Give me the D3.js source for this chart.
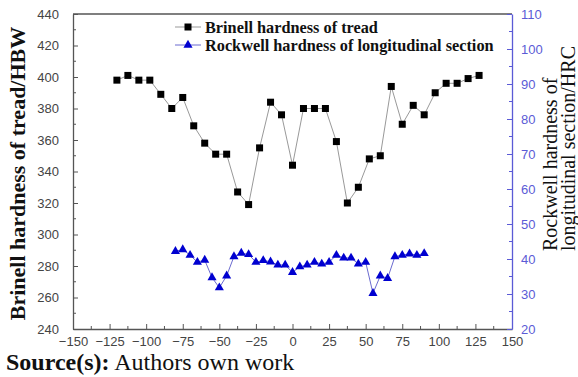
<!DOCTYPE html>
<html>
<head>
<meta charset="utf-8">
<title>Hardness distribution</title>
<style>
body { margin: 0; background: #fff; }
.tick text { font: 13px Arial, "Liberation Sans", sans-serif; }
</style>
</head>
<body>
<svg width="578" height="377"></svg>
<script src="https://cdnjs.cloudflare.com/ajax/libs/d3/7.8.5/d3.min.js"></script>
<script>

// positions along the wheel (mm) and measured hardness
var brinellX = [-120, -112.5, -105, -97.5, -90, -82.5, -75, -67.5, -60, -52.5, -45, -37.5,
                -30, -22.5, -15, -7.5, 0, 7.5, 15, 22.5, 30, 37.5, 45, 52.5, 60, 67.5,
                75, 82.5, 90, 97.5, 105, 112.5, 120, 127.5];
var brinellHBW = [398, 401, 398, 398, 389, 380, 387, 369, 358, 351, 351, 327,
                  319, 355, 384, 376, 344, 380, 380, 380, 359, 320, 330, 348, 350, 394,
                  370, 382, 376, 390, 396, 396, 399, 401];

var rockwellX = [-80, -75, -70, -65, -60, -55, -50, -45, -40, -35, -30, -25, -20, -15, -10, -5,
                 0, 5, 10, 15, 20, 25, 30, 35, 40, 45, 50, 55, 60, 65, 70, 75, 80, 85, 90];
var rockwellHRC = [42.2, 42.7, 41.1, 39.1, 39.7, 34.7, 31.8, 35.2, 40.7, 41.7, 41.3, 39.1, 39.6, 39.2, 38.3, 38.3,
                   36.2, 37.8, 38.3, 39.1, 38.6, 39.1, 41.1, 40.3, 40.3, 38.6, 39.1, 30.2, 35.2, 34.5, 40.7, 41.1, 41.5, 41.1, 41.6];

var xTicks = d3.range(-150, 151, 25);
var leftTicks = d3.range(240, 441, 20);
var rightTicks = d3.range(20, 111, 10);

var svg = d3.select("svg");
var mLeft = 73, mRight = 512, mTop = 14, mBottom = 329;

var x = d3.scaleLinear().domain([-150, 150]).range([mLeft, mRight]);
var yL = d3.scaleLinear().domain([240, 440]).range([mBottom, mTop]);
var yR = d3.scaleLinear().domain([20, 110]).range([mBottom, mTop]);

var axisGrey = "#555", blue = "#5b5bd6";

// frame top line
svg.append("line").attr("x1", mLeft).attr("x2", mRight).attr("y1", mTop).attr("y2", mTop)
    .attr("stroke", axisGrey).attr("stroke-width", 1.3);

// bottom axis
var gx = svg.append("g").attr("transform", "translate(0," + mBottom + ")")
    .call(d3.axisBottom(x).tickValues(xTicks).tickSizeInner(-5).tickSizeOuter(0).tickPadding(8)
      .tickFormat(function(d) { return d < 0 ? "\u2212" + Math.abs(d) : d; }));
gx.selectAll(".tick text").attr("fill", "#444");
gx.selectAll("line").attr("stroke", axisGrey);
gx.select(".domain").attr("stroke", axisGrey).attr("stroke-width", 1.3);
gx.selectAll(".minor").data(xTicks.slice(0, -1)).enter().append("line")
    .attr("x1", function(d) { return x(d + 12.5); }).attr("x2", function(d) { return x(d + 12.5); })
    .attr("y1", 0).attr("y2", -3).attr("stroke", axisGrey);

// left axis
var gl = svg.append("g").attr("transform", "translate(" + mLeft + ",0)")
    .call(d3.axisLeft(yL).tickValues(leftTicks).tickSizeInner(-5).tickSizeOuter(0).tickPadding(14));
gl.selectAll(".tick text").attr("fill", "#444");
gl.selectAll("line").attr("stroke", axisGrey);
gl.select(".domain").attr("stroke", axisGrey).attr("stroke-width", 1.3);
gl.selectAll(".minor").data(leftTicks.slice(0, -1)).enter().append("line")
    .attr("y1", function(d) { return yL(d + 10); }).attr("y2", function(d) { return yL(d + 10); })
    .attr("x1", 0).attr("x2", 3).attr("stroke", axisGrey);

// right axis
var gr = svg.append("g").attr("transform", "translate(" + mRight + ",0)")
    .call(d3.axisRight(yR).tickValues(rightTicks).tickSizeInner(-5).tickSizeOuter(0).tickPadding(9));
gr.selectAll(".tick text").attr("fill", blue);
gr.selectAll("line").attr("stroke", blue);
gr.select(".domain").attr("stroke", blue).attr("stroke-width", 1.3);
gr.selectAll(".minor").data(rightTicks.slice(0, -1)).enter().append("line")
    .attr("y1", function(d) { return yR(d + 5); }).attr("y2", function(d) { return yR(d + 5); })
    .attr("x1", 0).attr("x2", -3).attr("stroke", blue);

// Brinell series
var brinell = brinellX.map(function(d, i) { return [d, brinellHBW[i]]; });
svg.append("path").datum(brinell)
    .attr("fill", "none").attr("stroke", "#999").attr("stroke-width", 1)
    .attr("d", d3.line().x(function(d) { return x(d[0]); }).y(function(d) { return yL(d[1]); }));
svg.selectAll(".sq").data(brinell).enter().append("rect")
    .attr("x", function(d) { return x(d[0]) - 3.5; })
    .attr("y", function(d) { return yL(d[1]) - 3.5; })
    .attr("width", 7).attr("height", 7).attr("fill", "#000");

// Rockwell series
var rockwell = rockwellX.map(function(d, i) { return [d, rockwellHRC[i]]; });
svg.append("path").datum(rockwell)
    .attr("fill", "none").attr("stroke", "#6b6bd0").attr("stroke-width", 1)
    .attr("d", d3.line().x(function(d) { return x(d[0]); }).y(function(d) { return yR(d[1]); }));
var tri = d3.symbol().type(d3.symbolTriangle).size(36);
svg.selectAll(".tri").data(rockwell).enter().append("path")
    .attr("d", tri)
    .attr("transform", function(d) { return "translate(" + x(d[0]) + "," + yR(d[1]) + ")"; })
    .attr("fill", "#0000d0");

// legend
var legend = [
  {label: "Brinell hardness of tread", y: 27, line: "#999"},
  {label: "Rockwell hardness of longitudinal section", y: 45, line: "#6b6bd0"}
];
var lg = svg.selectAll(".legend").data(legend).enter().append("g");
lg.append("line").attr("x1", 175).attr("x2", 201)
    .attr("y1", function(d) { return d.y; }).attr("y2", function(d) { return d.y; })
    .attr("stroke", function(d) { return d.line; });
lg.filter(function(d, i) { return i === 0; }).append("rect")
    .attr("x", 184.5).attr("y", 23.5).attr("width", 7).attr("height", 7).attr("fill", "#000");
lg.filter(function(d, i) { return i === 1; }).append("path")
    .attr("d", tri).attr("transform", "translate(188,45)").attr("fill", "#0000d0");
lg.append("text").attr("x", 205).attr("y", function(d) { return d.y + 6; })
    .attr("font-family", "'Liberation Serif', serif").attr("font-weight", "bold")
    .attr("font-size", 16.3).attr("fill", "#111")
    .text(function(d) { return d.label; });

// axis titles
svg.append("text")
    .attr("transform", "translate(25," + ((mTop + mBottom) / 2 + 2) + ") rotate(-90)")
    .attr("text-anchor", "middle")
    .attr("font-family", "'Liberation Serif', serif").attr("font-weight", "bold")
    .attr("font-size", 22).attr("fill", "#111")
    .text("Brinell hardness of tread/HBW");

var rt = svg.append("text")
    .attr("transform", "translate(557,251) rotate(-90)")
    .attr("font-family", "'Liberation Serif', serif")
    .attr("font-size", 20).attr("fill", "#111");
rt.append("tspan").attr("x", 0).attr("y", 0).text("Rockwell hardness of");
rt.append("tspan").attr("x", 0).attr("y", 18).text("longitudinal section/HRC");

// source line
var src = svg.append("text").attr("x", 6).attr("y", 370)
    .attr("font-family", "'Liberation Serif', serif").attr("font-size", 24).attr("fill", "#111");
src.append("tspan").attr("font-weight", "bold").text("Source(s):");
src.append("tspan").text(" Authors own work");

</script>
</body>
</html>
